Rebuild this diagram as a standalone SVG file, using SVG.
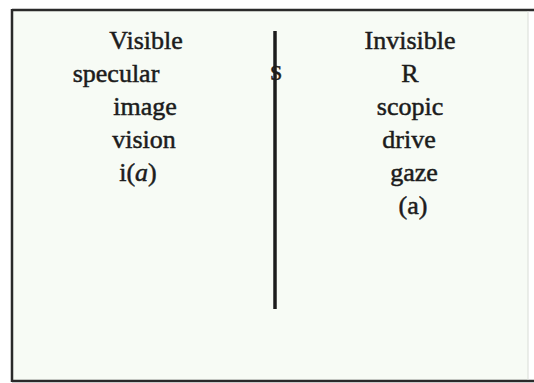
<svg xmlns="http://www.w3.org/2000/svg" width="534" height="383" viewBox="0 0 534 383">
<style>
.t{font-family:"Liberation Serif","Times New Roman",serif;font-size:26px;fill:#1c1c1c;stroke:#1c1c1c;stroke-width:0.5;text-anchor:middle}
.frame{stroke:#2a2a2a;stroke-width:2.5;fill:none}
</style>
<rect x="0" y="0" width="534" height="383" fill="#ffffff"/>
<rect x="12" y="10" width="516" height="371" fill="#f7fbf5"/>
<g id="frame">
<line class="frame" x1="12" y1="10" x2="534" y2="10"/>
<line class="frame" x1="12" y1="9" x2="12" y2="382"/>
<line class="frame" x1="12" y1="381" x2="534" y2="381"/>
<line x1="528" y1="11" x2="528" y2="380" stroke="#d8dcd6" stroke-width="1"/>
</g>
<g id="connectors">
<line x1="275" y1="31" x2="275" y2="309" stroke="#1c1c1c" stroke-width="3.5"/>
</g>
<g id="left">
<text class="t" x="146" y="49">Visible</text>
<text class="t" x="116" y="82">specular</text>
<text class="t" x="145" y="115">image</text>
<text class="t" x="144" y="148">vision</text>
<text class="t" x="138" y="181">i(<tspan font-style="italic">a</tspan>)</text>
</g>
<g id="barred-s">
<text class="t" x="276" y="80" style="font-size:22px">S</text>
</g>
<g id="right">
<text class="t" x="410" y="49">Invisible</text>
<text class="t" x="410" y="82">R</text>
<text class="t" x="410" y="115">scopic</text>
<text class="t" x="409" y="148">drive</text>
<text class="t" x="414" y="181">gaze</text>
<text class="t" x="413" y="214">(a)</text>
</g>
</svg>
